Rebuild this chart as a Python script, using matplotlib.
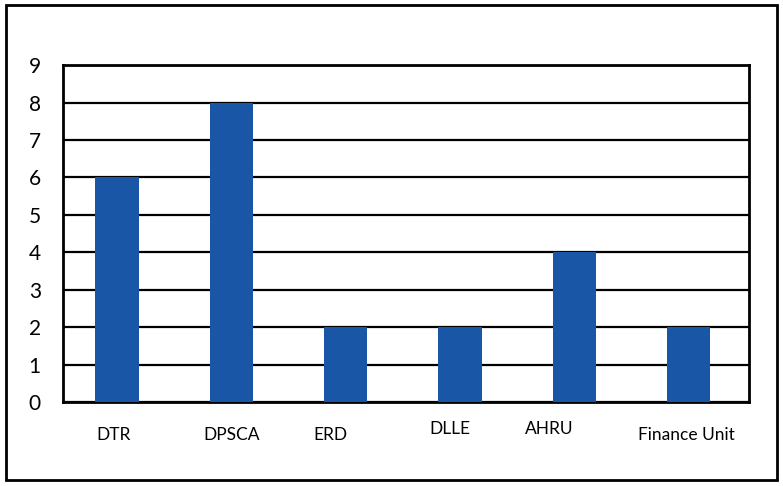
import matplotlib.pyplot as plt
from matplotlib.patches import Rectangle
from matplotlib.transforms import ScaledTranslation

plt.rcParams['font.family'] = ['Lato', 'DejaVu Sans']

units = ["DTR", "DPSCA", "ERD", "DLLE", "AHRU", "Finance Unit"]
counts = [6, 8, 2, 2, 4, 2]
yticks = list(range(10))

fig = plt.figure(figsize=(7.83, 4.86), dpi=100)
ax = fig.add_axes([0.0805, 0.173, 0.876, 0.693])

x = list(range(len(units)))
ax.bar(x, counts, width=0.38, color="#1957a6", zorder=3)

ax.set_xlim(-0.472, 5.528)
ax.set_ylim(0, 9)
ax.set_yticks(yticks)
ax.set_yticklabels([str(t) for t in yticks], fontsize=15)
ax.set_xticks(x)
ax.set_xticklabels(units, fontsize=12.5)
ax.tick_params(axis="both", length=0)
ax.tick_params(axis="y", pad=16)
ax.tick_params(axis="x", pad=18)
ax.yaxis.grid(True, color="black", linewidth=1.6, zorder=1)
ax.set_axisbelow(True)
for s in ax.spines.values():
    s.set_linewidth(2)
    s.set_color("black")

# category labels are not quite centred under their bars
shifts = {"DTR": (-3, 0), "ERD": (-15, 0), "DLLE": (-10, 6),
          "AHRU": (-25, 6), "Finance Unit": (-2, 0)}
for lbl in ax.get_xticklabels():
    dx, dy = shifts.get(lbl.get_text(), (0, 0))
    lbl.set_transform(lbl.get_transform() + ScaledTranslation(dx / 100, dy / 100, fig.dpi_scale_trans))

# outer frame around the whole chart
fig.patches.append(Rectangle((0.008, 0.012), 0.984, 0.977, transform=fig.transFigure,
                             fill=False, edgecolor="black", linewidth=2))

fig.savefig("out.png", dpi=100)
